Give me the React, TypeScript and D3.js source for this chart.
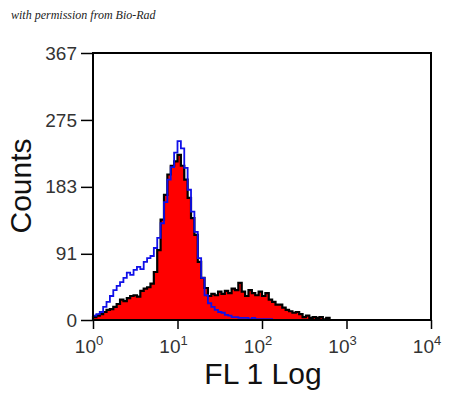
import React, { useEffect, useRef } from 'react';
import * as d3 from 'd3';

// histogram channels, 0.04 decade wide, starting at 10^0
const binWidth = 0.04;
const sampleCounts = [
  4, 6, 8, 11, 14, 15, 18, 22, 28, 26, 30, 33, 34, 32, 40, 43, 45, 50, 66, 96,
  138, 172, 200, 212, 218, 227, 212, 193, 168, 140, 117, 80, 58, 44, 33, 36, 34, 39, 36, 40,
  37, 43, 41, 51, 39, 33, 41, 37, 34, 39, 33, 37, 28, 25, 21, 21, 17, 14, 12, 10,
  11, 8, 4, 6, 3, 4, 3, 4, 1, 3, 0,
];
const controlCounts = [
  6, 8, 11, 18, 25, 33, 41, 47, 52, 58, 65, 62, 69, 73, 70, 80, 85, 88, 99, 113,
  133, 162, 193, 210, 230, 246, 236, 209, 179, 149, 121, 85, 58, 34, 23, 18, 14, 11, 10, 7,
  6, 4, 4, 3, 3, 3, 1, 3, 1, 1, 1, 1, 1, 0,
];
const yTicks = [0, 91, 183, 275, 367];
const xTicks = [1, 10, 100, 1000, 10000];

const App = () => {
  const chartRef = useRef<SVGSVGElement>(null);

  useEffect(() => {
    drawChart();
  }, []);

  const drawChart = () => {
    const svg = d3.select(chartRef.current);
    svg.selectAll('*').remove();

    const margin = { top: 53, right: 19, bottom: 78, left: 93 };
    const width = 450;
    const height = 398;

    const x = d3.scaleLog()
      .domain([1, 10000])
      .range([margin.left, width - margin.right]);

    const y = d3.scaleLinear()
      .domain([0, 367])
      .range([height - margin.bottom, margin.top]);

    const toPoints = (counts: number[]) => {
      const pts = counts.map((c, i) => [Math.pow(10, i * binWidth), c]);
      pts.push([Math.pow(10, counts.length * binWidth), counts[counts.length - 1]]);
      return pts;
    };

    svg.append('text')
      .attr('x', 11)
      .attr('y', 19)
      .attr('font-family', '"Liberation Serif", serif')
      .attr('font-style', 'italic')
      .attr('font-size', 12)
      .attr('fill', '#222')
      .text('with permission from Bio-Rad');

    const area = d3.area<number[]>()
      .x(d => x(d[0]))
      .y0(y(0))
      .y1(d => y(d[1]))
      .curve(d3.curveStepAfter);

    svg.append('path')
      .datum(toPoints(sampleCounts))
      .attr('d', area)
      .attr('fill', '#ff0000')
      .attr('stroke', '#000')
      .attr('stroke-width', 2.2)
      .attr('stroke-linejoin', 'miter');

    const line = d3.line<number[]>()
      .x(d => x(d[0]))
      .y(d => y(d[1]))
      .curve(d3.curveStepAfter);

    svg.append('path')
      .datum(toPoints(controlCounts))
      .attr('d', line)
      .attr('fill', 'none')
      .attr('stroke', '#1010e8')
      .attr('stroke-width', 1.8);

    // frame
    svg.append('rect')
      .attr('x', margin.left)
      .attr('y', margin.top)
      .attr('width', width - margin.right - margin.left)
      .attr('height', height - margin.bottom - margin.top)
      .attr('fill', 'none')
      .attr('stroke', '#000')
      .attr('stroke-width', 2);

    const yAxis = svg.append('g')
      .attr('transform', `translate(${margin.left},0)`)
      .call(d3.axisLeft(y).tickValues(yTicks).tickSize(12).tickPadding(4).tickFormat(d3.format('d')));
    yAxis.select('.domain').remove();
    yAxis.selectAll('line').attr('stroke-width', 1.5);
    yAxis.selectAll('text')
      .attr('font-family', '"Liberation Sans", Arial, sans-serif')
      .attr('font-size', 19)
      .attr('fill', '#333');

    const xAxis = svg.append('g')
      .attr('transform', `translate(0,${height - margin.bottom})`)
      .call(d3.axisBottom(x).tickValues(xTicks).tickSize(9).tickFormat(() => ''));
    xAxis.select('.domain').remove();
    xAxis.selectAll('line').attr('stroke-width', 1.5);

    const xl = svg.append('g')
      .selectAll('text')
      .data(xTicks)
      .enter().append('text')
      .attr('x', d => x(d) - 4)
      .attr('y', height - margin.bottom + 33)
      .attr('text-anchor', 'middle')
      .attr('font-family', '"Liberation Sans", Arial, sans-serif')
      .attr('font-size', 19)
      .attr('fill', '#333');
    xl.append('tspan').text('10');
    xl.append('tspan')
      .attr('dy', -8)
      .attr('font-size', 13)
      .text(d => String(Math.round(Math.log10(d))));

    svg.append('text')
      .attr('x', 263)
      .attr('y', 384)
      .attr('text-anchor', 'middle')
      .attr('font-family', '"Liberation Sans", Arial, sans-serif')
      .attr('font-size', 30)
      .attr('fill', '#111')
      .text('FL 1 Log');

    svg.append('text')
      .attr('transform', 'translate(31,186) rotate(-90)')
      .attr('text-anchor', 'middle')
      .attr('font-family', '"Liberation Sans", Arial, sans-serif')
      .attr('font-size', 30)
      .attr('fill', '#111')
      .text('Counts');
  };

  return (
    <svg
      ref={chartRef}
      width={450}
      height={398}
      style={{ position: 'absolute', left: 0, top: 0, background: '#fff' }}
    />
  );
};

export default App;
